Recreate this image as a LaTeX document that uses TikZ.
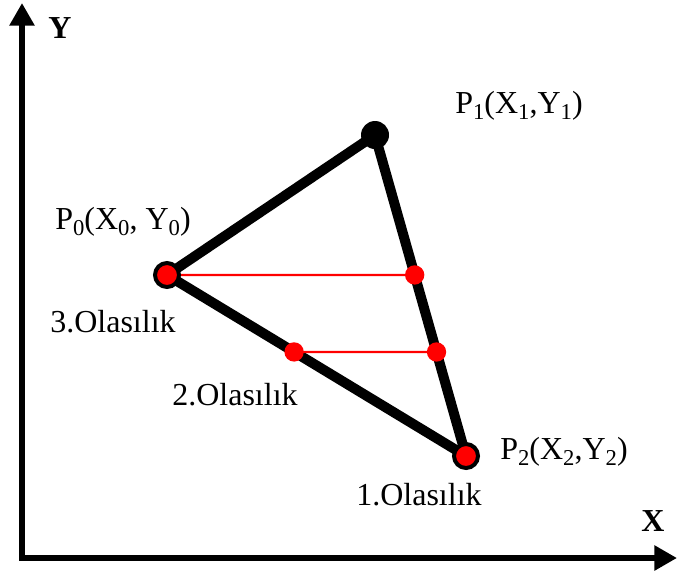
\documentclass[tikz,border=0pt]{standalone}
\usepackage{fontspec}
\setmainfont{Liberation Serif}
\usetikzlibrary{arrows.meta,calc}

\newcommand{\lowi}[1]{\raisebox{-0.4ex}{\fontsize{17}{17}\selectfont #1}}

\tikzset{
  axis/.style={line width=4.8pt,-{Triangle[length=17pt,width=18pt]}},
  side/.style={line width=7.5pt},
  ray/.style={red,line width=1.6pt},
  endpt/.style={circle,draw=black,line width=3pt,fill=red,inner sep=0pt,minimum size=18pt},
  toppt/.style={circle,fill=black,inner sep=0pt,minimum size=21pt},
  reddot/.style={circle,fill=red,inner sep=0pt,minimum size=14.5pt},
  lbl/.style={font=\fontsize{24}{28}\selectfont,inner sep=0pt},
  axlbl/.style={font=\bfseries\fontsize{24}{28}\selectfont,inner sep=0pt}
}

\begin{document}
\begin{tikzpicture}[x=0.75pt,y=-0.75pt]
\useasboundingbox (0,0) rectangle (677,579);

%%%%%%%%%%%%%%%%%%%%%%%%
% axes
%%%%%%%%%%%%%%%%%%%%%%%%

\coordinate(O) at (22,558);
\coordinate(Ytip) at (22,3);
\coordinate(Xtip) at (677,558);

\draw[axis] ($(O)+(0,2.5)$) -- (Ytip);
\draw[axis] ($(O)+(-2.5,0)$) -- (Xtip);

\node[axlbl](Y) at (60,28) {Y};
\node[axlbl](X) at (653,521) {X};

%%%%%%%%%%%%%%%%%%%%%%%%
% triangle
%%%%%%%%%%%%%%%%%%%%%%%%

\coordinate(P0) at (167,275);
\coordinate(P1) at (375,135);
\coordinate(P2) at (466,456);

\coordinate(A) at ($(P1)!0.436!(P2)$);
\coordinate(B) at ($(P0)!0.425!(P2)$);
\coordinate(C) at ($(P1)!0.676!(P2)$);

\draw[side] (P0) -- (P1);
\draw[side] (P1) -- (P2);
\draw[side] (P2) -- (P0);

\draw[ray] (P0) -- (A);
\draw[ray] (B) -- (C);

\node[endpt](p0) at (P0) {};
\node[toppt](p1) at (P1) {};
\node[endpt](p2) at (P2) {};
\node[reddot](a) at (A) {};
\node[reddot](b) at (B) {};
\node[reddot](c) at (C) {};

%%%%%%%%%%%%%%%%%%%%%%%%
% labels
%%%%%%%%%%%%%%%%%%%%%%%%

\node[lbl](L1) at (519,106) {P\lowi{1}(X\lowi{1},Y\lowi{1})};
\node[lbl](L0) at (123,222) {P\lowi{0}(X\lowi{0}, Y\lowi{0})};
\node[lbl](L2) at (564,452) {P\lowi{2}(X\lowi{2},Y\lowi{2})};

\node[lbl](o3) at (113,322) {3.Olasılık};
\node[lbl](o2) at (235,395) {2.Olasılık};
\node[lbl](o1) at (419,495) {1.Olasılık};

\end{tikzpicture}
\end{document}
